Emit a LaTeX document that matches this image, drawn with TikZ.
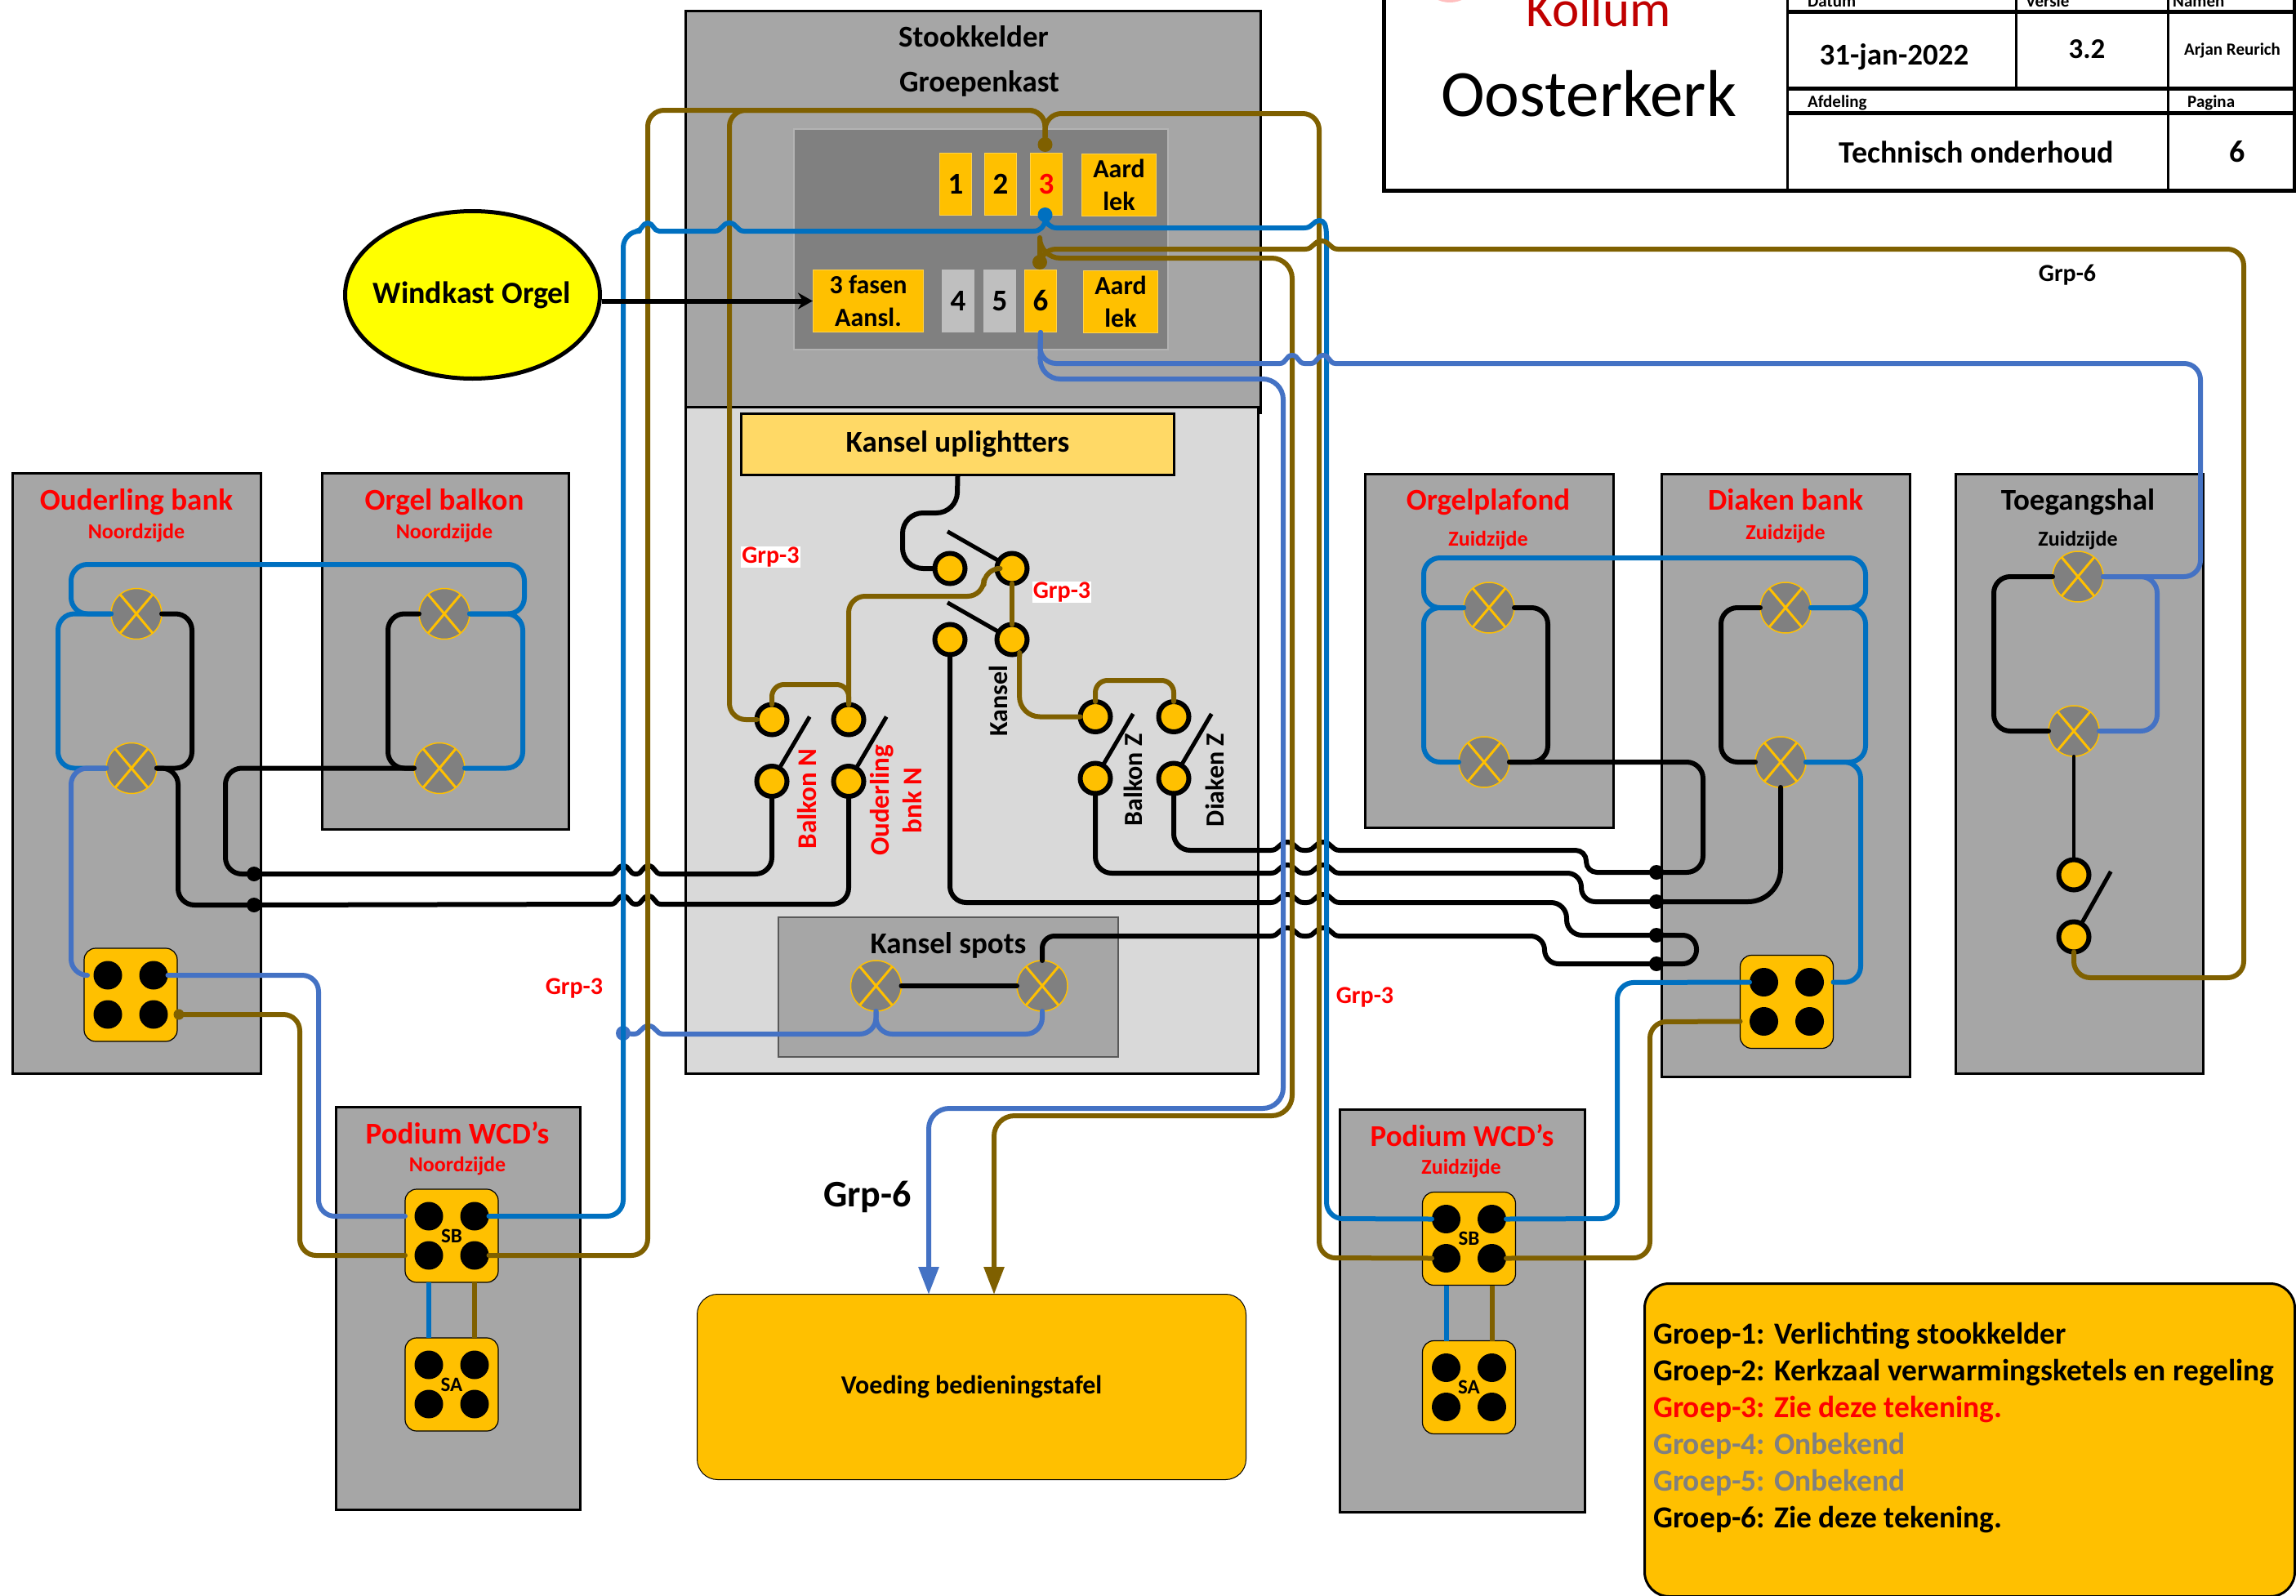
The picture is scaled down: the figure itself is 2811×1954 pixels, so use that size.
\documentclass[tikz,border=0pt]{standalone}
\usepackage{fontspec}
\setmainfont{Carlito}
\usetikzlibrary{arrows.meta,shapes.geometric}

\definecolor{roomgray}{HTML}{A6A6A6}
\definecolor{lightroom}{HTML}{D9D9D9}
\definecolor{panelgray}{HTML}{808080}
\definecolor{cellyellow}{HTML}{FFC000}
\definecolor{paleyellow}{HTML}{FFD966}
\definecolor{orgelyellow}{RGB}{255,255,0}
\definecolor{wireblue}{HTML}{0070C0}
\definecolor{wirelight}{HTML}{4472C4}
\definecolor{wirebrown}{HTML}{7F6000}
\definecolor{logored}{HTML}{C00000}
\newcommand{\bfs}[1]{\fontsize{#1}{40}\selectfont\bfseries}

\begin{document}
\begin{tikzpicture}[
    x=1pt,y=-1pt,
    roomnode/.style={
      draw,line width=3,fill=roomgray,anchor=north west,inner sep=0,outer sep=0
    },
    roomtitle/.style={
      font=\bfs{37},inner sep=0,text height=25,text depth=7
    },
    roomside/.style={
      font=\bfs{26},inner sep=0
    },
    cellnode/.style={
      draw=cellyellow!70!white,line width=1,fill=cellyellow,inner sep=0,align=center,
      anchor=north west,font=\bfs{32}
    },
    greycell/.style={
      cellnode,draw=lightgray,fill=lightgray
    },
    lampnode/.style={
      circle,draw=cellyellow,line width=1.5,fill=panelgray,minimum size=62,inner sep=0,outer sep=0
    },
    lampcross/.style={
      draw=cellyellow,line width=3
    },
    switchnode/.style={
      circle,draw,line width=6,fill=cellyellow,minimum size=37,inner sep=0,outer sep=0
    },
    leverline/.style={
      line width=5
    },
    switchlabel/.style={
      font=\bfs{32},inner sep=0,rotate=90,align=center
    },
    socketnode/.style={
      draw,line width=1.2,fill=cellyellow,rounded corners=14,minimum size=114,inner sep=0,outer sep=0
    },
    holenode/.style={
      circle,fill=black,minimum size=35,inner sep=0,outer sep=0
    },
    socketlabel/.style={
      font=\bfs{25},inner sep=0
    },
    dotnode/.style={
      circle,minimum size=18,inner sep=0,outer sep=0
    },
    grouplabel/.style={
      font=\bfs{30},text=red,inner sep=2
    },
    wire/.style={
      line width=6,line cap=round,line join=round,rounded corners=20
    },
    blackwire/.style={wire,draw=black},
    bluewire/.style={wire,draw=wireblue},
    lightwire/.style={wire,draw=wirelight},
    brownwire/.style={wire,draw=wirebrown},
    tableline/.style={draw,line width=3},
    tablesmall/.style={font=\bfs{21},inner sep=0},
    tablebig/.style={font=\bfs{38},inner sep=0},
    legendline/.style={font=\bfs{37.5},inner sep=0,anchor=base west}]
      \def\wireradius{20}
      \def\hop#1#2#3{[sharp corners] -- (#1-#3,#2) .. controls (#1-#3/2,#2) and (#1-#3/2,#2-10) .. (#1,#2-10)
        .. controls (#1+#3/2,#2-10) and (#1+#3/2,#2) .. (#1+#3,#2) [rounded corners=\wireradius]}
      \def\socket#1#2#3#4{
        \node[socketnode] (#1) at (#2,#3) {};
        \node[holenode] (#1a) at (#2-28,#3-24) {};
        \node[holenode] (#1b) at (#2+28,#3-24) {};
        \node[holenode] (#1c) at (#2-28,#3+24) {};
        \node[holenode] (#1d) at (#2+28,#3+24) {};
        \node[socketlabel] (#1label) at (#2,#3) {#4};
      }
      \def\lamp#1#2#3{
        \node[lampnode] (#1) at (#2,#3) {};
        \draw[lampcross] (#1.50) -- (#1.230) (#1.130) -- (#1.310);
      }

      \useasboundingbox (0,0) rectangle (2811,1954);
      \clip (0,0) rectangle (2811,1954);

      % title block
      \draw[line width=5,fill=white] (1694,-10) rectangle (2809,233);
      \draw[tableline] (2188,-10) -- (2188,233);
      \draw[tableline] (2468,-10) -- (2468,108);
      \draw[tableline] (2654,-10) -- (2654,233);
      \draw[line width=5] (2188,14) -- (2809,14) (2188,108) -- (2809,108) (2188,138) -- (2809,138);
      \fill[pink] (1775,-12) ellipse (24 and 15);
      \node[font=\fontsize{63}{70}\selectfont,text=logored,anchor=base,inner sep=0] (kollum) at (1957,32) {Kollum};
      \node[font=\fontsize{81}{80}\selectfont,anchor=base,inner sep=0] (oosterkerk) at (1945,142) {Oosterkerk};
      \node[tablesmall,anchor=base west] (datum) at (2213,9) {Datum};
      \node[tablesmall,anchor=base west] (versie) at (2480,9) {Versie};
      \node[tablesmall,anchor=base west] (namen) at (2660,9) {Namen};
      \node[tablesmall,anchor=base west] (afdeling) at (2213,131) {Afdeling};
      \node[tablesmall,anchor=base west] (pagina) at (2678,131) {Pagina};
      \node[tablebig,font=\bfs{37}] (datumtext) at (2319,70) {31-jan-2022};
      \node[tablebig,font=\bfs{35}] (versietext) at (2555,60) {3.2};
      \node[tablesmall] (namentext) at (2733,62) {Arjan Reurich};
      \node[tablebig] (afdelingtext) at (2420,186) {Technisch onderhoud};
      \node[tablebig] (paginatext) at (2739,186) {6};

      % rooms
      \node[roomnode,minimum width=704,minimum height=492] (stook) at (839,13) {};
      \node[roomnode,fill=lightroom,minimum width=701,minimum height=816] (kerk) at (839,498) {};
      \node[roomnode,minimum width=304,minimum height=735] (ouderling) at (15,579) {};
      \node[roomnode,minimum width=302,minimum height=436] (orgelbalkon) at (394,579) {};
      \node[roomnode,minimum width=304,minimum height=433] (orgelplafond) at (1671,580) {};
      \node[roomnode,minimum width=304,minimum height=738] (diaken) at (2034,580) {};
      \node[roomnode,minimum width=303,minimum height=734] (toegang) at (2394,580) {};
      \node[roomnode,minimum width=299,minimum height=493] (podiumn) at (411,1355) {};
      \node[roomnode,minimum width=300,minimum height=493] (podiumz) at (1640,1358) {};
      \node[roomnode,draw=black!65,line width=2,minimum width=416,minimum height=171] (spots) at (953,1123) {};

      \node[roomtitle,text=red] (ouderlingtitle) at (167,615) {Ouderling bank};
      \node[roomside,text=red] (ouderlingside) at (167,653) {Noordzijde};
      \node[roomtitle,text=red] (balkontitle) at (544,615) {Orgel balkon};
      \node[roomside,text=red] (balkonside) at (544,653) {Noordzijde};
      \node[roomtitle,text=red] (plafondtitle) at (1822,615) {Orgelplafond};
      \node[roomside,text=red] (plafondside) at (1822,662) {Zuidzijde};
      \node[roomtitle,text=red] (diakentitle) at (2186,615) {Diaken bank};
      \node[roomside,text=red] (diakenside) at (2186,654) {Zuidzijde};
      \node[roomtitle] (toegangtitle) at (2544,615) {Toegangshal};
      \node[roomside] (toegangside) at (2544,662) {Zuidzijde};
      \node[roomtitle,text=red] (podiumntitle) at (560,1391) {Podium WCD’s};
      \node[roomside,text=red] (podiumnside) at (560,1428) {Noordzijde};
      \node[roomtitle,text=red] (podiumztitle) at (1790,1394) {Podium WCD’s};
      \node[roomside,text=red] (podiumzside) at (1789,1431) {Zuidzijde};
      \node[roomtitle] (stooktitle) at (1192,48) {Stookkelder};
      \node[roomtitle] (groepentitle) at (1199,103) {Groepenkast};
      \node[font=\bfs{37},inner sep=0] (spotstitle) at (1161,1157) {Kansel spots};

      % groepenkast
      \node[roomnode,draw=roomgray!85!white,line width=1.5,fill=panelgray,minimum width=458,minimum height=270] (panel) at (972,158) {};
      \node[cellnode,minimum width=39,minimum height=76,font=\bfs{37}] (fuseone) at (1150,187) {1};
      \node[cellnode,minimum width=39,minimum height=76,font=\bfs{37}] (fusetwo) at (1205,187) {2};
      \node[cellnode,minimum width=39,minimum height=76,font=\bfs{37},text=red] (fusethree) at (1261,187) {3};
      \node[cellnode,minimum width=91,minimum height=76] (aardtop) at (1324,188) {Aard\\lek};
      \node[cellnode,minimum width=135,minimum height=76] (fasen) at (995,330) {3 fasen\\Aansl.};
      \node[greycell,minimum width=39,minimum height=76,font=\bfs{37}] (fusefour) at (1153,330) {4};
      \node[greycell,minimum width=39,minimum height=76,font=\bfs{37}] (fusefive) at (1204,330) {5};
      \node[cellnode,minimum width=39,minimum height=76,font=\bfs{37}] (fusesix) at (1254,330) {6};
      \node[cellnode,minimum width=91,minimum height=76] (aardlow) at (1326,331) {Aard\\lek};
      \node[dotnode,fill=wirebrown] (threebrown) at (1279.5,177) {};
      \node[dotnode,fill=wireblue] (threeblue) at (1279.5,263) {};
      \node[dotnode,fill=wirebrown] (sixbrown) at (1273,321) {};

      \node[draw,line width=5,fill=orgelyellow,ellipse,minimum width=312,minimum height=205,inner sep=0] (windkast) at (578.5,361) {};
      \node[font=\bfs{38},inner sep=0] (windkasttext) at (578,361) {Windkast Orgel};
      \node[draw,line width=3,fill=paleyellow,anchor=north west,minimum width=530,minimum height=75,inner sep=0,font=\bfs{37}] (uplighters) at (906,505) {Kansel uplightters};
      \node[draw,line width=1,fill=cellyellow,rounded corners=25,anchor=north west,minimum width=672,minimum height=227,inner sep=0,font=\bfs{32}] (voeding) at (853,1584) {Voeding bedieningstafel};
      \coordinate (voedingblue) at (1137,1585);
      \coordinate (voedingbrown) at (1217,1585);

      % lamps
      \lamp{oba}{167}{751.5}
      \lamp{obb}{161}{940.5}
      \lamp{bla}{544}{751.5}
      \lamp{blb}{538}{940.5}
      \lamp{opa}{1823}{744}
      \lamp{opb}{1817}{933}
      \lamp{dba}{2186}{744}
      \lamp{dbb}{2180}{933}
      \lamp{tha}{2544}{706}
      \lamp{thb}{2539}{895}
      \lamp{spa}{1072.5}{1207}
      \lamp{spb}{1276}{1207}

      % switches
      \node[switchnode] (kua) at (1163,696) {};
      \node[switchnode] (kub) at (1239,696) {};
      \node[switchnode] (kla) at (1163,783) {};
      \node[switchnode] (klb) at (1239,783) {};
      \node[switchnode] (bnhigh) at (945,881) {};
      \node[switchnode] (bnlow) at (945,956.5) {};
      \node[switchnode] (onhigh) at (1039,881) {};
      \node[switchnode] (onlow) at (1039,956.5) {};
      \node[switchnode] (bzhigh) at (1341,877.5) {};
      \node[switchnode] (bzlow) at (1341,953) {};
      \node[switchnode] (dzhigh) at (1437,877.5) {};
      \node[switchnode] (dzlow) at (1437,953) {};
      \node[switchnode] (thhigh) at (2539,1071) {};
      \node[switchnode] (thlow) at (2539,1147) {};
      \draw[leverline] (kub.150) -- ++(-63,-36);
      \draw[leverline] (klb.150) -- ++(-63,-36);
      \draw[leverline] (bnlow.60) -- ++(37,-63);
      \draw[leverline] (onlow.60) -- ++(37,-63);
      \draw[leverline] (bzlow.60) -- ++(37,-63);
      \draw[leverline] (dzlow.60) -- ++(37,-63);
      \draw[leverline] (thlow.60) -- ++(36,-64);

      % sockets
      \socket{obs}{160}{1218}{}
      \socket{dbs}{2187.5}{1226.5}{}
      \socket{sbn}{553}{1513}{SB}
      \socket{san}{553}{1695}{SA}
      \socket{sbz}{1798.5}{1516.5}{SB}
      \socket{saz}{1798.5}{1698.5}{SA}

      % junctions
      \node[dotnode,fill=black] (busa) at (311,1070) {};
      \node[dotnode,fill=black] (busb) at (311,1108) {};
      \node[dotnode,fill=black] (busc) at (2028,1068) {};
      \node[dotnode,fill=black] (busd) at (2028,1104) {};
      \node[dotnode,fill=black] (buse) at (2028,1145) {};
      \node[dotnode,fill=black] (busf) at (2028,1180) {};
      \node[dotnode,fill=wirelight] (spotdot) at (763,1265) {};
      \node[dotnode,fill=wirebrown,minimum size=13] (obsdot) at (219,1242) {};

      % lamps north side
      \draw[bluewire] (oba.west) -- (87,751.5) -- (87,691) -- (642,691) -- (642,751.5) -- (bla.east);
      \draw[bluewire] (oba.west) -- (71,751.5) -- (71,940.5) -- (obb.west);
      \draw[bluewire] (bla.east) -- (640,751.5) -- (640,940.5) -- (blb.east);
      \draw[lightwire] (obb.west) -- (87,940.5) -- (87,1194) -- (obs.west |- obsa);
      \draw[blackwire] (oba.east) -- (235,751.5) -- (235,940.5) -- (obb.east);
      \draw[blackwire] (obb.east) -- (218,940.5) -- (218,1108) -- (busb);
      \draw[blackwire] (bla.west) -- (475,751.5) -- (475,940.5) -- (blb.west);
      \draw[blackwire] (blb.west) -- (276,940.5) -- (276,1070) -- (busa);

      % lamps south side
      \draw[bluewire] (opa.west) -- (1743,744) -- (1743,683) -- (2284,683) -- (2284,744) -- (dba.east);
      \draw[bluewire] (opa.west) -- (1743,744) -- (1743,933) -- (opb.west);
      \draw[bluewire] (dba.east) -- (2284,744) -- (2284,933) -- (dbb.east);
      \draw[bluewire] (dbb.east) -- (2278,933) -- (2278,1203) -- (dbs.east |- dbsb);
      \draw[blackwire] (opa.east) -- (1895,744) -- (1895,933) -- (opb.east);
      \draw[blackwire] (opb.east) -- (2085,933) -- (2085,1068) -- (busc);
      \draw[blackwire] (dba.west) -- (2107,744) -- (2107,933) -- (dbb.west);
      \draw[blackwire,rounded corners=40] (dbb.south) -- (2180,1104) -- (busd);
      \draw[blackwire,rounded corners=17] (buse) -- (2077,1145) -- (2077,1180) -- (busf);

      % toegangshal
      \draw[lightwire] (tha.east) -- (2641,706) -- (2641,895) -- (thb.east);
      \draw[blackwire] (tha.west) -- (2441,706) -- (2441,895) -- (thb.west);
      \draw[blackwire,line width=4] (thb.south) -- (thhigh.north);

      % kansel
      \draw[blackwire,rounded corners=25] (uplighters.south) -- (1171.5,628) -- (1105,628) -- (1105,696) -- (kua.west);
      \draw[brownwire] (kub.west) -- (1204.5,696) -- (1204.5,730) -- (1039,730) -- (onhigh.north);
      \draw[brownwire,rounded corners=15] (onhigh.north) -- (1039,838) -- (945,838) -- (bnhigh.north);
      \draw[brownwire] (kub.south) -- (klb.north);
      \draw[brownwire,rounded corners=25] (klb.300) -- (1248,877.5) -- (bzhigh.west);
      \draw[brownwire,rounded corners=15] (bzhigh.north) -- (1341,833) -- (1437,833) -- (dzhigh.north);
      \draw[blackwire] (spa.east) -- (spb.west);
      \draw[lightwire] (spotdot) \hop{794}{1266}{18} -- (1072.5,1266) -- (spa.south);
      \draw[lightwire] (spa.south) -- (1072.5,1266) -- (1276,1266) -- (spb.south);

      % busses
      \draw[blackwire] (busa) \hop{763}{1070}{15} \hop{794}{1070}{15} -- (945,1070) -- (bnlow.south);
      \draw[blackwire] (busb) \hop{763}{1107}{15} \hop{794}{1107}{15} -- (1039,1107) -- (onlow.south);
      \draw[blackwire] (dzlow.south) -- (1437,1041) \hop{1576}{1041}{20} \hop{1620}{1041}{20}
        [rounded corners=13] -- (1942,1041) -- (1942,1068) -- (busc);
      \draw[blackwire] (bzlow.south) -- (1341,1069) \hop{1576}{1069}{20} \hop{1620}{1069}{20}
        [rounded corners=17] -- (1936,1069) -- (1936,1104) -- (busd);
      \draw[blackwire] (kla.south) -- (1163,1105) \hop{1576}{1105}{20} \hop{1620}{1105}{20}
        [rounded corners=19] -- (1918,1105) -- (1918,1145) -- (buse);
      \draw[blackwire,rounded corners=15] (spb.north) -- (1276,1146) \hop{1576}{1146}{20} \hop{1620}{1146}{20}
        [rounded corners=17] -- (1891,1146) -- (1891,1180) -- (busf);

      % groep 3
      \draw[brownwire] (threebrown) -- (1279.5,135) -- (793,135) -- (793,1537) -- (sbnd.east);
      \draw[brownwire] (threebrown) -- (1279.5,135) -- (893,135) -- (893,881) -- (bnhigh.west);
      \draw[brownwire] (threebrown) -- (1279.5,139) -- (1615,139) -- (1615,1540) -- (sbzc.west);
      \draw[bluewire,rounded corners=14] (threeblue) -- (1279.5,283) \hop{893}{283}{-18} \hop{793}{283}{-14}
        -- (763,283) -- (763,1489) -- (sbnb.east);
      \draw[bluewire,rounded corners=14] (threeblue) -- (1279.5,279) [sharp corners] -- (1597,279)
        .. controls (1607,279) and (1608,270) .. (1615,270) .. controls (1621,270) and (1624,274) .. (1624,290)
        [rounded corners=20] -- (1624,1492) -- (sbza.west);
      \draw[bluewire] (sbzb.east) -- (1980,1492) -- (1980,1203) -- (dbsa.west);
      \draw[brownwire] (sbzd.east) -- (2020,1540) -- (2020,1251) -- (dbs.west |- dbsc);
      \draw[lightwire] (obsb.east) -- (390,1194) -- (390,1489) -- (sbn.west |- sbna);
      \draw[brownwire] (obsdot) -- (367,1242) -- (367,1537) -- (sbn.west |- sbnc);

      % groep 6
      \draw[brownwire] (sixbrown) -- (1273,305) \hop{1618}{305}{20} -- (2747,305) -- (2747,1197) -- (2539,1197) -- (thlow.south);
      \draw[brownwire,-{Triangle[length=34,width=24]},rounded corners=25] (sixbrown) -- (1273,316) -- (1582,316) -- (1582,1366) -- (1217,1366) -- (voedingbrown);
      \draw[lightwire] (fusesix.south) -- (1273,445) \hop{1582}{445}{15} \hop{1620}{445}{15} -- (2694,445) -- (2694,706) -- (tha.east);
      \draw[lightwire,-{Triangle[length=34,width=24]},rounded corners=25] (fusesix.south) -- (1273,464) -- (1571,464) -- (1571,1357) -- (1137,1357) -- (voedingblue);

      % links between sockets
      \draw[wireblue,line width=6] (sbna |- sbn.south) -- (sana |- san.north);
      \draw[wirebrown,line width=6] (sbnb |- sbn.south) -- (sanb |- san.north);
      \draw[wireblue,line width=6] (sbza |- sbz.south) -- (saza |- saz.north);
      \draw[wirebrown,line width=6] (sbzb |- sbz.south) -- (sazb |- saz.north);

      \draw[line width=6,-{Stealth[length=18,width=20]}] (windkast.east |- fasen.west) -- (fasen.west);

      % labels
      \node[switchlabel,text=red,font=\bfs{33}] (balkonn) at (988,978) {Balkon N};
      \node[switchlabel,text=red,font=\bfs{33}] (ouderlingn) at (1097,980) {Ouderling\\bnk N};
      \node[switchlabel] (kansel) at (1222,858) {Kansel};
      \node[switchlabel] (balkonz) at (1387,955) {Balkon Z};
      \node[switchlabel] (diakenz) at (1487,955) {Diaken Z};
      \node[grouplabel,fill=white,inner sep=1] (grpa) at (943.5,682) {Grp-3};
      \node[grouplabel,fill=white,inner sep=1] (grpb) at (1300,725) {Grp-3};
      \node[grouplabel] (grpc) at (703,1210) {Grp-3};
      \node[grouplabel] (grpd) at (1671,1221) {Grp-3};
      \node[grouplabel,text=black] (grpe) at (2531,337) {Grp-6};
      \node[font=\bfs{46},inner sep=0] (grpf) at (1062,1465) {Grp-6};

      % legend
      \node[draw,line width=3,fill=cellyellow,rounded corners=30,anchor=north west,minimum width=796,minimum height=383,inner sep=0] (legend) at (2012,1570) {};
      \node[legendline] (groepone) at (2024,1645) {Groep-1: Verlichting stookkelder};
      \node[legendline] (groeptwo) at (2024,1690) {Groep-2: Kerkzaal verwarmingsketels en regeling};
      \node[legendline,text=red] (groepthree) at (2024,1735) {Groep-3: Zie deze tekening.};
      \node[legendline,text=gray] (groepfour) at (2024,1780) {Groep-4: Onbekend};
      \node[legendline,text=gray] (groepfive) at (2024,1825) {Groep-5: Onbekend};
      \node[legendline] (groepsix) at (2024,1870) {Groep-6: Zie deze tekening.};
\end{tikzpicture}
\end{document}
